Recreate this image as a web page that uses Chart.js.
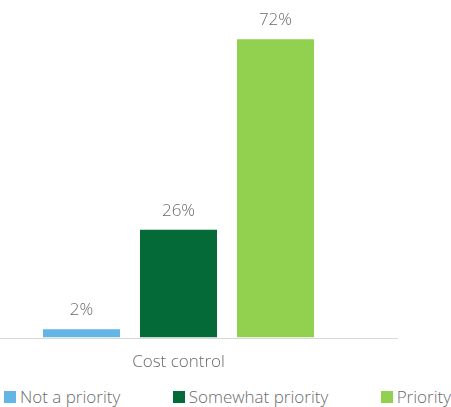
<!DOCTYPE html>
<html>
<head>
<meta charset="utf-8">
<script src="https://cdn.jsdelivr.net/npm/chart.js@4/dist/chart.umd.min.js"></script>
<style>
    html, body { margin: 0; padding: 0; background: #fff; }
    #wrap { width: 451px; height: 407px; position: relative; }
    #chartBox { width: 451px; height: 386px; position: relative; }
    #legend {
        display: flex;
        justify-content: space-between;
        padding: 1px 0 0 4px;
        font: 300 17px "Open Sans", sans-serif;
        color: #6b6b6b;
        line-height: 20px;
    }
    #legend .item { display: flex; align-items: center; white-space: nowrap; }
    #legend .box { width: 12px; height: 12px; margin-right: 4px; }
</style>
</head>
<body>
<div id="wrap">
    <div id="chartBox"><canvas id="costChart"></canvas></div>
    <div id="legend"></div>
</div>
<script>
const categories = ['Cost control'];
const seriesNames = ['Not a priority', 'Somewhat priority', 'Priority'];
const notPriority = [2];
const somewhatPriority = [26];
const priority = [72];
const seriesColors = ['#62b5e5', '#046a38', '#92d050'];

const textColor = '#6b6b6b';
const fontFamily = '"Open Sans", sans-serif';

// percentage labels above each bar
const valueLabels = {
    id: 'valueLabels',
    afterDatasetsDraw(chart) {
        const ctx = chart.ctx;
        ctx.save();
        ctx.font = '300 17px ' + fontFamily;
        ctx.fillStyle = textColor;
        ctx.textAlign = 'center';
        ctx.textBaseline = 'middle';
        chart.data.datasets.forEach((ds, i) => {
            chart.getDatasetMeta(i).data.forEach((bar, j) => {
                ctx.fillText(ds.data[j] + '%', bar.x, bar.y - 19);
            });
        });
        ctx.restore();
    }
};

// baseline runs a bit past the plot area, like the original
const baseLine = {
    id: 'baseLine',
    afterDatasetsDraw(chart) {
        const ctx = chart.ctx;
        const y = Math.round(chart.scales.y.getPixelForValue(0)) + 0.5;
        ctx.save();
        ctx.strokeStyle = '#d9d9d9';
        ctx.lineWidth = 1;
        ctx.beginPath();
        ctx.moveTo(chart.chartArea.left, y);
        ctx.lineTo(chart.chartArea.right + 41, y);
        ctx.stroke();
        ctx.restore();
    }
};

const ctx = document.getElementById('costChart').getContext('2d');
const costChart = new Chart(ctx, {
    type: 'bar',
    data: {
        labels: categories,
        datasets: [
            { label: seriesNames[0], data: notPriority, backgroundColor: seriesColors[0] },
            { label: seriesNames[1], data: somewhatPriority, backgroundColor: seriesColors[1] },
            { label: seriesNames[2], data: priority, backgroundColor: seriesColors[2] }
        ]
    },
    options: {
        responsive: true,
        maintainAspectRatio: false,
        animation: false,
        layout: { padding: { top: 6, right: 94, left: 0, bottom: 0 } },
        datasets: {
            bar: { categoryPercentage: 0.815, barPercentage: 0.794 }
        },
        plugins: {
            legend: { display: false },
            tooltip: { enabled: false }
        },
        scales: {
            x: {
                grid: { display: false, drawTicks: false },
                border: { display: false },
                ticks: {
                    color: textColor,
                    padding: 14,
                    font: { family: fontFamily, size: 17, weight: '300' }
                }
            },
            y: {
                display: false,
                min: 0,
                max: 80
            }
        }
    },
    plugins: [valueLabels, baseLine]
});

// legend built from the chart datasets
const legendEl = document.getElementById('legend');
legendEl.innerHTML = costChart.data.datasets.map(ds => `
    <div class="item"><span class="box" style="background:${ds.backgroundColor}"></span><span>${ds.label}</span></div>
`).join('');
</script>
</body>
</html>
